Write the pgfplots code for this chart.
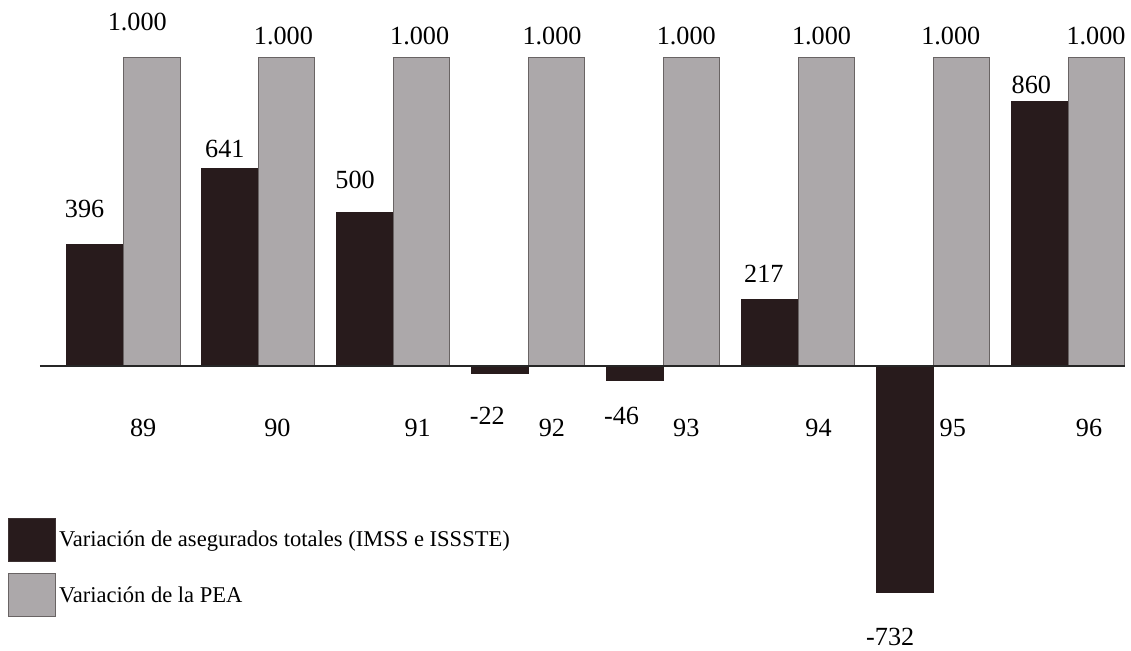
\documentclass[border=0pt]{standalone}
\usepackage{fontspec}
\setmainfont{Liberation Serif}
\usepackage{pgfplots}
\pgfplotsset{compat=1.18}

\definecolor{darkbar}{RGB}{40,27,28}
\definecolor{graybar}{RGB}{172,168,170}
\definecolor{edge}{RGB}{105,100,100}

\newcommand{\numfont}{\fontsize{15.8}{18}\selectfont}

\begin{document}
\begin{tikzpicture}
\begin{axis}[
  scale only axis,
  width=678.6pt, height=390pt,
  xmin=-0.9138, xmax=7.4208,
  ymin=-909.7, ymax=1187.1,
  axis line style={draw=none},
  major tick length=0pt,
  ytick=\empty,
  xtick={0.147,1.142,2.181,3.176,4.171,5.151,6.146,7.155},
  xticklabels={89,90,91,92,93,94,95,96},
  xticklabel style={anchor=center, yshift=132pt, font=\numfont},
  bar width=0.42,
  clip=false,
  legend style={at={(0.0071,0.2000)}, anchor=north west, draw=none, fill=none,
    font=\fontsize{13.6}{16}\selectfont, row sep=7.2pt, inner sep=0pt,
    /tikz/every even column/.append style={column sep=8.8pt}},
  legend cell align=left,
]
% Variacion de asegurados totales (miles)
\addplot[ybar, bar shift=-0.21, fill=darkbar, draw=darkbar, forget plot]
  coordinates {(0,396) (1,641) (2,500) (3,-22) (4,-46) (5,217) (6,-732) (7,860)};
% Variacion de la PEA (miles)
\addplot[ybar, bar shift=0.21, fill=graybar, draw=edge, line width=0.6pt, forget plot]
  coordinates {(0,1000) (1,1000) (2,1000) (3,1000) (4,1000) (5,1000) (6,1000) (7,1000)};
% baseline
\addplot[draw=black!85, line width=1pt, forget plot] coordinates {(-0.619,0) (7.42,0)};

% value labels
\begin{scope}[every node/.style={font=\numfont, anchor=center}]
\node at (axis cs:-0.287,509.7) {396};
\node at (axis cs:0.752,703) {641};
\node at (axis cs:1.717,603) {500};
\node at (axis cs:2.697,-160) {-22};
\node at (axis cs:3.692,-160) {-46};
\node at (axis cs:4.746,300) {217};
\node at (axis cs:5.682,-877) {-732};
\node at (axis cs:6.728,913) {860};
\node at (axis cs:0.103,1116) {1.000};
\node at (axis cs:1.186,1071) {1.000};
\node at (axis cs:2.196,1071) {1.000};
\node at (axis cs:3.176,1071) {1.000};
\node at (axis cs:4.171,1071) {1.000};
\node at (axis cs:5.173,1071) {1.000};
\node at (axis cs:6.131,1071) {1.000};
\node at (axis cs:7.207,1071) {1.000};
\end{scope}

\addlegendimage{legend image code/.code={\draw[fill=darkbar,draw=darkbar!70!edge] (0pt,-13pt) rectangle (28pt,13pt);}}
\addlegendentry{Variación de asegurados totales (IMSS e ISSSTE)}
\addlegendimage{legend image code/.code={\draw[fill=graybar,draw=edge,line width=0.6pt] (0pt,-13pt) rectangle (28pt,13pt);}}
\addlegendentry{Variación de la PEA}

\path (rel axis cs:0,0) rectangle (rel axis cs:1,1);
\end{axis}
\end{tikzpicture}
\end{document}
